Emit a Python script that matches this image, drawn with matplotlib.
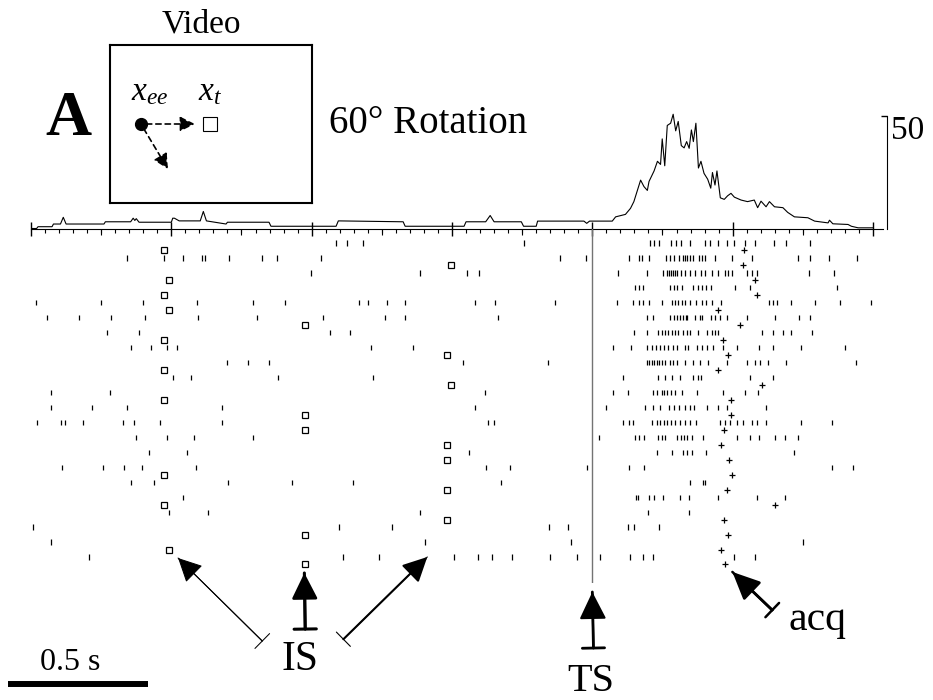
import numpy as np
import matplotlib.pyplot as plt
from matplotlib.ticker import MultipleLocator

plt.rcParams['font.family'] = 'Liberation Serif'
plt.rcParams['mathtext.fontset'] = 'custom'
plt.rcParams['mathtext.rm'] = 'Liberation Serif'
plt.rcParams['mathtext.it'] = 'Liberation Serif:italic'

# spike times per trial (ms, relative to target shift TS)
spikes = [
    [-912, -873, -816, -242, 207, 221, 239, 282, 299, 317, 349, 403, 421, 446, 481, 503, 545, 581, 649, 691, 777],
    [-1657, -1525, -1458, -1390, -1379, -1294, -1176, -1123, -966, -114, -21, 132, 168, 178, 203, 264, 278, 292,
     310, 324, 331, 339, 349, 360, 381, 392, 403, 438, 499, 570, 731, 777, 845, 944],
    [-1001, -613, -446, -403, 93, 196, 253, 267, 274, 282, 289, 296, 303, 317, 331, 349, 367, 388, 403, 428, 446,
     474, 485, 499, 552, 570, 588, 773, 862],
    [153, 168, 182, 278, 292, 303, 321, 360, 378, 392, 406, 424, 510, 563, 870],
    [-1982, -1750, -1600, -1408, -1208, -1094, -830, -798, -731, -666, -417, -346, -132, 89, 146, 168, 182, 203,
     249, 285, 296, 307, 321, 331, 349, 371, 392, 406, 428, 460, 631, 645, 659, 709, 795, 884, 994],
    [-1942, -1828, -1714, -1593, -1404, -1194, -959, -738, -666, -335, 196, 217, 278, 292, 303, 314, 324, 335, 339,
     367, 385, 392, 424, 438, 456, 481, 552, 652, 738, 777],
    [-1729, -1614, -934, -862, 150, 196, 235, 249, 260, 271, 285, 296, 307, 324, 339, 349, 378, 410, 428, 438, 449,
     606, 642, 681, 709, 784],
    [-1643, -1572, -1515, -1479, -788, -638, 75, 139, 196, 214, 228, 242, 257, 271, 289, 303, 331, 342, 374, 392,
     410, 431, 467, 517, 595, 642, 745, 902],
    [-1301, -1226, -1151, -460, -157, 196, 203, 214, 221, 232, 239, 249, 260, 278, 289, 303, 331, 360, 385, 413,
     481, 552, 581, 599, 627, 691, 941],
    [-1493, -1429, -1119, -781, 110, 235, 260, 285, 314, 360, 378, 388, 560, 642],
    [-1928, -1718, -381, 75, 128, 217, 232, 249, 257, 267, 282, 296, 321, 374, 467, 545, 592],
    [-1928, -1782, -1657, -1319, -417, 50, 189, 217, 242, 274, 292, 310, 331, 349, 364, 410, 449, 481, 620],
    [-1978, -1892, -1878, -1814, -1672, -1632, -1540, -1319, -371, -349, 110, 132, 146, 214, 232, 242, 257, 267,
     282, 296, 314, 331, 349, 371, 456, 474, 492, 517, 538, 570, 588, 620, 745, 855],
    [-1625, -1515, -1418, -1208, 25, 153, 168, 185, 235, 249, 260, 303, 317, 328, 339, 356, 396, 517, 560, 595,
     652, 688, 734],
    [-1579, -1443, -438, 232, 285, 324, 339, 356, 406, 720],
    [-1889, -1743, -1668, -1604, -1411, -378, -292, -18, 132, 185, 855, 930],
    [-1643, -1561, -1297, -1069, -852, -324, 349, 396, 403],
    [-1458, 157, 164, 203, 221, 253, 314, 346, 446, 588, 688],
    [-1508, -1369, -613, 200, 346],
    [-1992, -902, -713, -153, -86, 128, 150, 239],
    [-1928, -595, -75, 752],
    [-1793, -887, -759, -492, -406, -356, -285, -150, -53, 29, 135, 182, 217, 506, 581],
]

# initial saccade (IS) and target acquisition (acq) per trial, ms
is_times = [-1525, -503, -1508, -1525, -1508, -1023, -1525, -517, -1525, -503, -1525,
            -1023, -1023, -517, -517, -1525, -517, -1525, -517, -1023, -1508, -1023]
acq_times = [542, 538, 581, 588, 449, 527, 467, 485, 449, 606, 495,
             495, 470, 460, 488, 499, 481, 652, 470, 485, 460, 474]

# spike density histogram (spikes/s)
psth_t = [-2000, -1980, -1975, -1925, -1920, -1895, -1885, -1875, -1740, -1735, -1645, -1636, -1630, -1625,
          -1615, -1500, -1495, -1489, -1472, -1468, -1397, -1386, -1375, -1305, -1300, -1152, -1145, -913, -905,
          -674, -667, -457, -450, -380, -364, -350, -253, -245, -200, -195, -30, -20, -10, 71, 83, 118, 136, 148,
          163, 172, 184, 196, 202, 220, 232, 243, 249, 258, 267, 279, 288, 297, 306, 317, 327, 336, 345, 353, 360,
          369, 378, 387, 398, 411, 422, 428, 437, 444, 456, 470, 482, 494, 506, 530, 553, 577, 589, 601, 619, 631,
          649, 679, 696, 720, 768, 792, 840, 845, 857, 911, 923, 947, 1000]
psth_rate = [0, 0, 0.8, 0.8, 2.0, 2.0, 5.0, 2.0, 2.0, 3.0, 3.0, 4.6, 3.6, 4.4, 2.8, 2.8, 4.6, 4.6, 3.4, 3.4,
             3.4, 7.6, 3.4, 2.0, 2.8, 2.8, 1.0, 1.0, 3.4, 3.0, 1.0, 1.0, 3.0, 3.0, 5.8, 3.0, 3.0, 1.0, 1.0, 3.3,
             3.3, 2.3, 3.3, 3.3, 5.2, 6.3, 9, 12, 18, 21.6, 18.7, 17, 21, 25.7, 30, 28.6, 40, 28, 46, 47, 51,
             43.6, 47.8, 37, 36, 38.8, 35.8, 44, 38.8, 47, 27, 30, 24.6, 22, 18, 25, 19.4, 25.7, 13.7, 13, 14.6,
             15.7, 14, 12.7, 12, 12.7, 9.3, 12.2, 9.7, 12, 9.7, 9.3, 7.2, 5.2, 4.8, 3.3, 2.5, 3.7, 2.1, 1.8, 1.0,
             0.3, 0.3]

scale_len = 500   # ms
rate_bar = 50     # spikes/s

W, H = 933, 700


def fx(x):
    return x / W


def fy(y):
    return 1 - y / H


fig = plt.figure(figsize=(W / 100, H / 100), dpi=100)

# --- histogram on top
ax_h = fig.add_axes([fx(31), fy(228.5), 842 / W, 123.2 / H])
ax_h.patch.set_visible(False)
ax_h.plot(psth_t, psth_rate, color='black', lw=0.8)
ax_h.set_xlim(-2000, 1000)
ax_h.set_ylim(0, 55)
ax_h.spines['left'].set_visible(False)
ax_h.spines['top'].set_visible(False)
ax_h.spines['bottom'].set_bounds(-2000, 1036)
ax_h.spines['right'].set_bounds(0, rate_bar)
ax_h.spines['right'].set_position(('outward', 10))
ax_h.xaxis.set_major_locator(MultipleLocator(500))
ax_h.xaxis.set_minor_locator(MultipleLocator(50))
ax_h.tick_params(axis='x', which='major', direction='inout', length=10, width=1, labelbottom=False)
ax_h.tick_params(axis='x', which='minor', direction='out', length=3, width=0.8)
ax_h.yaxis.tick_right()
ax_h.set_yticks([rate_bar])
ax_h.tick_params(axis='y', direction='in', length=4, width=1, labelright=False)
sec = ax_h.secondary_xaxis('bottom')
sec.set_xticks(np.arange(-1750, 1000, 500))
sec.tick_params(direction='out', length=4.5, width=0.8, labelbottom=False)
sec.spines['bottom'].set_visible(False)
ax_h.annotate(str(rate_bar), xy=(1, rate_bar), xycoords=ax_h.get_yaxis_transform(),
              xytext=(13, 1), textcoords='offset points', ha='left', va='top', fontsize=24)

# --- raster
n = len(spikes)
rows = np.arange(n)
ax_r = fig.add_axes([fx(31), fy(583), 842 / W, 354 / H])
ax_r.set_xlim(-2000, 1000)
ax_r.set_ylim(22.74, -0.936)
ax_r.axis('off')
ax_r.eventplot(spikes, lineoffsets=rows, linelengths=0.35, linewidths=0.9, colors='black')
ax_r.axvline(0, color='0.45', lw=1)
ax_r.plot(is_times, rows + 0.5, 's', ms=4.3, mfc='white', mec='black', mew=0.9, clip_on=False)
ax_r.plot(acq_times, rows + 0.5, '+', ms=5, mec='black', mew=0.9, clip_on=False)

# 0.5 s scale bar
ax_r.plot([-2082, -2082 + scale_len], [29.5, 29.5], color='black', lw=4.3,
          solid_capstyle='butt', clip_on=False)


def pointer(tip, tail, lw, bar_lw, bar_w, head_len, head_w):
    ax_r.annotate('', xy=tip, xytext=tail, annotation_clip=False,
                  arrowprops=dict(arrowstyle=f'|-|,widthA={bar_w},widthB=0', lw=bar_lw, color='black',
                                  shrinkA=0, shrinkB=0, mutation_scale=1))
    ax_r.annotate('', xy=tip, xytext=tail, annotation_clip=False,
                  arrowprops=dict(arrowstyle=f'-|>,head_length={head_len},head_width={head_w}', lw=lw,
                                  color='black', shrinkA=0, shrinkB=0, mutation_scale=1))


pointer((-1476, 21.07), (-1176, 26.62), 0.75, 0.75, 7.5, 15, 7.5)
pointer((-1026, 22.07), (-1023, 25.82), 2.0, 2.2, 8, 16, 8)
pointer((-588, 21.0), (-887, 26.5), 1.5, 0.8, 7.2, 15, 7.5)
pointer((0, 23.34), (4, 27.09), 1.5, 2.0, 8, 17, 8.4)
pointer((499, 22.0), (641, 24.55), 2.0, 1.8, 7.1, 17, 7.8)

# --- video box
ax_v = fig.add_axes([fx(110), fy(203), 202 / W, 158 / H])
ax_v.set_xlim(0, 1)
ax_v.set_ylim(0, 1)
ax_v.set_xticks([])
ax_v.set_yticks([])
for s in ax_v.spines.values():
    s.set_linewidth(1.5)
ax_v.plot(0.153, 0.5, 'o', ms=8.5, color='black')
ax_v.plot(0.495, 0.5, 's', ms=10, mfc='white', mec='black', mew=0.8)
for tip in [(0.42, 0.5), (0.287, 0.215)]:
    ax_v.annotate('', xy=tip, xytext=(0.153, 0.5),
                  arrowprops=dict(arrowstyle='-|>,head_length=9,head_width=4.5', mutation_scale=1,
                                  lw=1.2, ls=(0, (3.2, 2.4)), color='black', shrinkA=4, shrinkB=0))
ax_v.text(0.198, 0.652, r'$x_{ee}$', ha='center', va='baseline', fontsize=24)
ax_v.text(0.495, 0.652, r'$x_t$', ha='center', va='baseline', fontsize=24)

# --- labels
fig.text(fx(201), fy(24), 'Video', ha='center', va='center', fontsize=24)
fig.text(fx(45), fy(135), 'A', ha='left', va='baseline', fontsize=46, fontweight='bold')
fig.text(fx(329), fy(133), '60° Rotation', ha='left', va='baseline', fontsize=28)
fig.text(fx(300), fy(670), 'IS', ha='center', va='baseline', fontsize=30)
fig.text(fx(591), fy(691), 'TS', ha='center', va='baseline', fontsize=29)
fig.text(fx(788), fy(630), 'acq', ha='left', va='baseline', fontsize=30)
fig.text(fx(70), fy(670), '0.5 s', ha='center', va='baseline', fontsize=23)

fig.savefig('out.png', dpi=100)
